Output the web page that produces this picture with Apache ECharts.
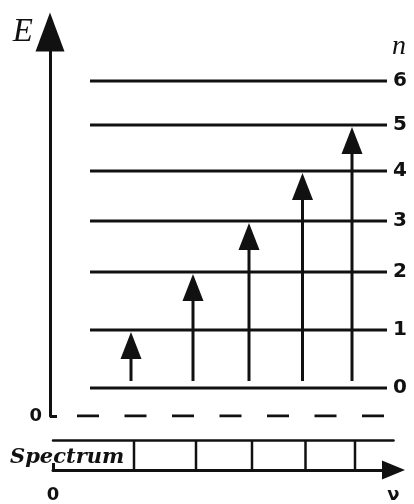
<!DOCTYPE html>
<html><head><meta charset="utf-8">
<script src="https://cdn.jsdelivr.net/npm/echarts@6/dist/echarts.min.js"></script>
<style>html,body{margin:0;padding:0;background:#fff}#c{width:414px;height:504px}</style>
</head><body><div id="c"></div>
<script>
// Energy levels (quantum number n) and their energies (arbitrary units, E = 0 at the dashed line)
const levels = [0, 1, 2, 3, 4, 5, 6];
const levelEnergy = [2.8, 8.6, 14.4, 19.5, 24.5, 29.1, 33.5];
// Absorption transitions 0 -> n and their frequencies (arbitrary units)
const transitionsTo = [1, 2, 3, 4, 5];
const transitionNu = [8.1, 14.3, 19.9, 25.25, 30.2];
// Axis tick labels
const energyAxisLabel = ['0'];
const nuAxisLabels = ['0', 'ν'];

const INK = '#111';
const E_MAX = 38.4, NU_MAX1 = 34.0, NU_MAX2 = 34.05;
const LEVEL_X0 = 4.0, LEVEL_X1 = 33.7;

const chart = echarts.init(document.getElementById('c'));
chart.setOption({
  backgroundColor: '#fff',
  animation: false,
  grid: [
    { left: 50, top: 32, width: 340, height: 384 },
    { left: 53, top: 440, width: 340.5, height: 40 }
  ],
  xAxis: [
    { gridIndex: 0, type: 'value', min: 0, max: NU_MAX1, show: false },
    { gridIndex: 1, type: 'value', min: 0, max: NU_MAX2, position: 'bottom',
      axisLine: { show: true, onZero: false, symbol: ['none', 'triangle'], symbolSize: [19, 23],
        lineStyle: { color: INK, width: 3 } },
      axisTick: { show: true, inside: true, length: 7, customValues: [0], lineStyle: { color: INK, width: 3 } },
      axisLabel: { show: true, customValues: [0, NU_MAX2], margin: 16, color: INK, fontSize: 18, fontWeight: 'bold',
        fontFamily: 'DejaVu Sans',
        formatter: v => (v === 0 ? nuAxisLabels[0] : nuAxisLabels[1]) },
      splitLine: { show: false } },
    { gridIndex: 1, type: 'value', min: 0, max: NU_MAX2, position: 'top',
      axisLine: { show: true, onZero: false, lineStyle: { color: INK, width: 2.5 } },
      axisTick: { show: false }, axisLabel: { show: false }, splitLine: { show: false } }
  ],
  yAxis: [
    { gridIndex: 0, type: 'value', min: 0, max: E_MAX, position: 'left',
      name: 'E', nameLocation: 'end', nameGap: 0,
      nameTextStyle: { fontFamily: 'Liberation Serif', fontStyle: 'italic', fontSize: 33, color: INK,
        align: 'right', verticalAlign: 'middle', padding: [0, 17, 0, 0] },
      axisLine: { show: true, onZero: false, symbol: ['none', 'triangle'], symbolSize: [29, 39],
        lineStyle: { color: INK, width: 3 } },
      axisTick: { show: true, inside: true, length: 7, customValues: [0], lineStyle: { color: INK, width: 3 } },
      axisLabel: { show: true, customValues: [0], margin: 8, color: INK, fontSize: 18, fontWeight: 'bold',
        fontFamily: 'DejaVu Sans', formatter: () => energyAxisLabel[0] },
      splitLine: { show: false } },
    { gridIndex: 0, type: 'value', min: 0, max: E_MAX, position: 'right',
      axisLine: { show: false }, axisTick: { show: false }, splitLine: { show: false },
      axisLabel: { show: true, customValues: levelEnergy, margin: 3, color: INK, fontSize: 20, fontWeight: 'bold',
        fontFamily: 'DejaVu Sans', align: 'left',
        formatter: v => String(levels[levelEnergy.findIndex(e => Math.abs(e - v) < 1e-6)]) } },
    { gridIndex: 1, type: 'value', min: 0, max: 1, show: false }
  ],
  graphic: [
    { type: 'text', x: 10, y: 458, style: { text: 'Spectrum', font: 'italic bold 21px "DejaVu Serif"',
      fill: INK, verticalAlign: 'middle', textVerticalAlign: 'middle' } },
    { type: 'text', x: 392, y: 47, style: { text: 'n', font: 'italic 28px "Liberation Serif"',
      fill: INK, verticalAlign: 'middle', textVerticalAlign: 'middle' } }
  ],
  series: [
    { // energy levels
      type: 'custom', xAxisIndex: 0, yAxisIndex: 0, clip: false,
      data: levels.map((n, i) => [n, levelEnergy[i]]),
      renderItem: (params, api) => {
        const E = api.value(1);
        const p0 = api.coord([LEVEL_X0, E]), p1 = api.coord([LEVEL_X1, E]);
        return { type: 'line', shape: { x1: p0[0], y1: p0[1], x2: p1[0], y2: p1[1] },
          style: { stroke: INK, lineWidth: 3 } };
      }
    },
    { // E = 0 dashed line
      type: 'line', xAxisIndex: 0, yAxisIndex: 0, symbol: 'none', silent: true,
      data: [[2.7, 0], [LEVEL_X1, 0]],
      lineStyle: { color: INK, width: 3, type: [22, 25.5] }
    },
    { // transition arrows
      type: 'custom', xAxisIndex: 0, yAxisIndex: 0, clip: false,
      data: transitionsTo.map((n, i) => [transitionNu[i], levelEnergy[0], levelEnergy[n]]),
      renderItem: (params, api) => {
        const b = api.coord([api.value(0), api.value(1)]);
        const t = api.coord([api.value(0), api.value(2)]);
        const x = b[0], y0 = b[1] - 7, tip = t[1] + 2, hh = 27, hw = 10.5;
        return { type: 'group', children: [
          { type: 'line', shape: { x1: x, y1: y0, x2: x, y2: tip + hh - 2 }, style: { stroke: INK, lineWidth: 3 } },
          { type: 'polygon', shape: { points: [[x, tip], [x - hw, tip + hh], [x + hw, tip + hh]] }, style: { fill: INK } }
        ] };
      }
    },
    { // spectrum lines
      type: 'custom', xAxisIndex: 1, yAxisIndex: 2, clip: false,
      data: transitionNu.map(v => [v]),
      renderItem: (params, api) => {
        const a = api.coord([api.value(0), 0]), b = api.coord([api.value(0), 1]);
        return { type: 'line', shape: { x1: a[0], y1: a[1], x2: b[0], y2: b[1] },
          style: { stroke: INK, lineWidth: 2.5 } };
      }
    }
  ]
});
</script></body></html>
